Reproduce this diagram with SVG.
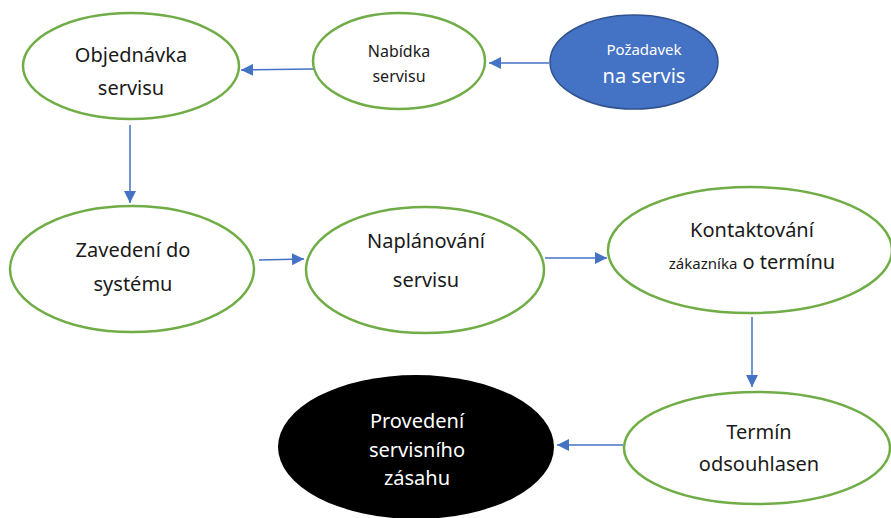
<svg xmlns="http://www.w3.org/2000/svg" width="891" height="518" viewBox="0 0 891 518">
<style>
.n{fill:#fff;stroke:#70AD47;stroke-width:2.5}
.t{font-family:"Noto Sans","Open Sans",sans-serif;font-size:20px;fill:#1a1a1a;text-anchor:middle}
.s{font-size:16px}
.xs{font-size:15px}
.w{fill:#fff}
.c{stroke:#4472C4;stroke-width:1.5;fill:none;marker-end:url(#ah)}
</style>
<defs>
<marker id="ah" viewBox="0 0 10 10" refX="10" refY="5" markerWidth="8" markerHeight="8" orient="auto" markerUnits="strokeWidth">
<path d="M0,0 L10,5 L0,10 z" fill="#4472C4"/>
</marker>
</defs>
<rect width="891" height="518" fill="#fff"/>
<g id="connectors">
<line class="c" x1="549" y1="63" x2="489" y2="63"/>
<line class="c" x1="313" y1="69" x2="241" y2="70"/>
<line class="c" x1="130" y1="125" x2="130" y2="203"/>
<line class="c" x1="259" y1="260" x2="304" y2="259"/>
<line class="c" x1="545" y1="258" x2="607" y2="258"/>
<line class="c" x1="752" y1="317" x2="752" y2="387"/>
<line class="c" x1="623" y1="445" x2="557" y2="445"/>
</g>
<g id="objednavka">
<ellipse class="n" cx="131" cy="66" rx="108" ry="53"/>
<text class="t" x="131" y="62">Objednávka</text>
<text class="t" x="131" y="95">servisu</text>
</g>
<g id="nabidka">
<ellipse class="n" cx="399" cy="61" rx="86" ry="48"/>
<text class="t s" x="399" y="57">Nabídka</text>
<text class="t s" x="399" y="82">servisu</text>
</g>
<g id="pozadavek">
<ellipse cx="634" cy="62" rx="84" ry="47" fill="#4472C4" stroke="#2F528F" stroke-width="1.5"/>
<text class="t w xs" x="644" y="55">Požadavek</text>
<text class="t w" x="644" y="83">na servis</text>
</g>
<g id="zavedeni">
<ellipse class="n" cx="132" cy="269" rx="122" ry="63"/>
<text class="t" x="133" y="257">Zavedení do</text>
<text class="t" x="133" y="291">systému</text>
</g>
<g id="naplanovani">
<ellipse class="n" cx="425" cy="270" rx="119" ry="63"/>
<text class="t" x="426" y="248">Naplánování</text>
<text class="t" x="426" y="287">servisu</text>
</g>
<g id="kontaktovani">
<ellipse class="n" cx="750" cy="250" rx="142" ry="63"/>
<text class="t" x="752" y="237">Kontaktování</text>
<text class="t" x="752" y="269"><tspan class="xs">zákazníka</tspan> o termínu</text>
</g>
<g id="termin">
<ellipse class="n" cx="757" cy="448" rx="133" ry="56"/>
<text class="t" x="759" y="439">Termín</text>
<text class="t" x="759" y="471">odsouhlasen</text>
</g>
<g id="provedeni">
<ellipse cx="416" cy="447" rx="138" ry="72" fill="#000"/>
<text class="t w" x="417" y="428">Provedení</text>
<text class="t w" x="417" y="457">servisního</text>
<text class="t w" x="417" y="485">zásahu</text>
</g>
</svg>
